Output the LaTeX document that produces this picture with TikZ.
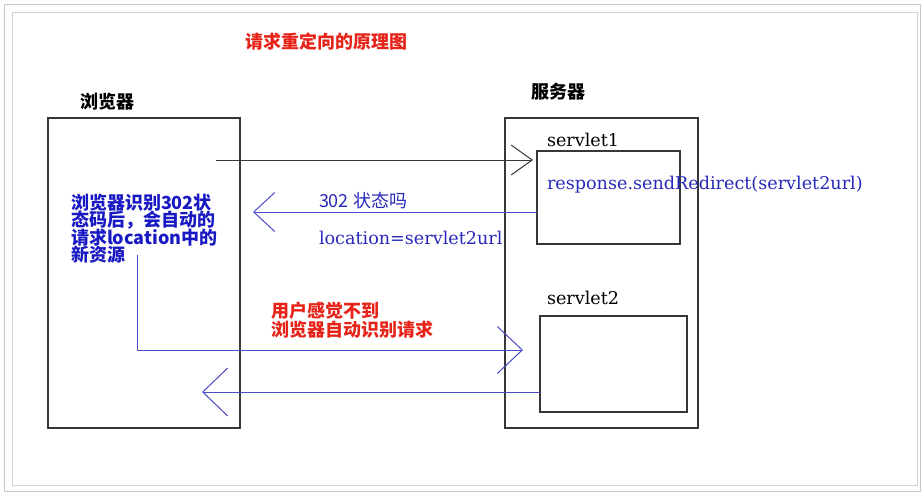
\documentclass[tikz,border=0pt]{standalone}
\usepackage{fontspec}
\setmainfont{DejaVu Serif}
\newfontfamily\codefont{DejaVu Serif}
\newfontfamily\cjk{Noto Sans CJK SC}
\newcommand\tightls{\lineskiplimit=-20pt\relax}
\usetikzlibrary{arrows.meta}
\definecolor{framegray}{RGB}{200,200,200}
\definecolor{boxgray}{RGB}{55,55,55}
\definecolor{lineblue}{RGB}{75,75,200}
\definecolor{textblue}{RGB}{25,25,195}
\definecolor{codeblue}{RGB}{40,40,185}
\definecolor{titlered}{RGB}{230,35,25}
\tikzset{
  boxnode/.style={draw=boxgray, line width=1.2pt, anchor=north west, inner sep=0pt, outer sep=0pt},
  txt/.style={anchor=west, inner sep=0pt, outer sep=0pt},
  cjkhead/.style={txt, font={\cjk\bfseries\fontsize{18}{19}\selectfont}},
  codetxt/.style={txt, font={\codefont\fontsize{17.6}{19}\selectfont}},
  multi/.style={txt, align=left},
  darkarrow/.style={draw=boxgray, line width=1pt},
  bluearrow/.style={draw=lineblue, line width=1pt},
}
\begin{document}
\begin{tikzpicture}[x=1pt,y=-1pt]
\useasboundingbox (0,0) rectangle (922,493);
% frames
\draw[framegray, line width=1pt] (4,4) rectangle (920,491);
\draw[framegray!80, line width=1pt] (12,12) rectangle (917,485);
% boxes
\node[boxnode, minimum width=192pt, minimum height=310pt] (browser) at (48,118) {};
\node[boxnode, minimum width=193pt, minimum height=310pt] (server) at (505,118) {};
\node[boxnode, minimum width=143pt, minimum height=93pt] (s1) at (537,151) {};
\node[boxnode, minimum width=147pt, minimum height=96pt] (s2) at (540,316) {};
% labels
\node[cjkhead, text=titlered] (title) at (245,42) {请求重定向的原理图};
\node[cjkhead, text=black] (blabel) at (80,102) {浏览器};
\node[cjkhead, text=black] (slabel) at (531,92) {服务器};
\node[codetxt, text=black] (s1label) at (547,140) {servlet1};
\node[codetxt, text=black] (s2label) at (547,298) {servlet2};
\node[codetxt, text=codeblue] (resp) at (547,185) {response.sendRedirect(servlet2url)};
\node[txt, text=codeblue, font={\cjk\fontsize{18}{19}\selectfont}] (code302) at (319,201) {302 状态吗};
\node[codetxt, text=codeblue] (loc) at (319,238) {location=servlet2url};
\node[multi, text=textblue, font={\cjk\bfseries\fontsize{18}{17.5}\selectfont\tightls}] (btext) at (71,228.5)
  {浏览器识别302状\\态码后，会自动的\\请求location中的\\新资源};
\node[multi, text=titlered, font={\cjk\bfseries\fontsize{18}{19}\selectfont\tightls}] (rtext) at (271,320.5)
  {用户感觉不到\\浏览器自动识别请求};
% connectors
\coordinate (a1s) at (216,160);
\draw[darkarrow, -{Straight Barb[length=21pt,width=30pt]}, shorten >=4pt] (a1s) -- (a1s -| s1.west);
\coordinate (a2e) at (253,212);
\draw[bluearrow, -{Straight Barb[length=21pt,width=39pt]}] (a2e -| s1.west) -- (a2e);
\coordinate (a3s) at (137,255);
\coordinate (a3c) at (137,350);
\draw[bluearrow, -{Straight Barb[length=25pt,width=47pt]}, shorten >=17pt] (a3s) -- (a3c) -- (a3c -| s2.west);
\coordinate (a4e) at (202,392);
\draw[bluearrow, -{Straight Barb[length=25pt,width=48pt]}] (a4e -| s2.west) -- (a4e);
\end{tikzpicture}
\end{document}
